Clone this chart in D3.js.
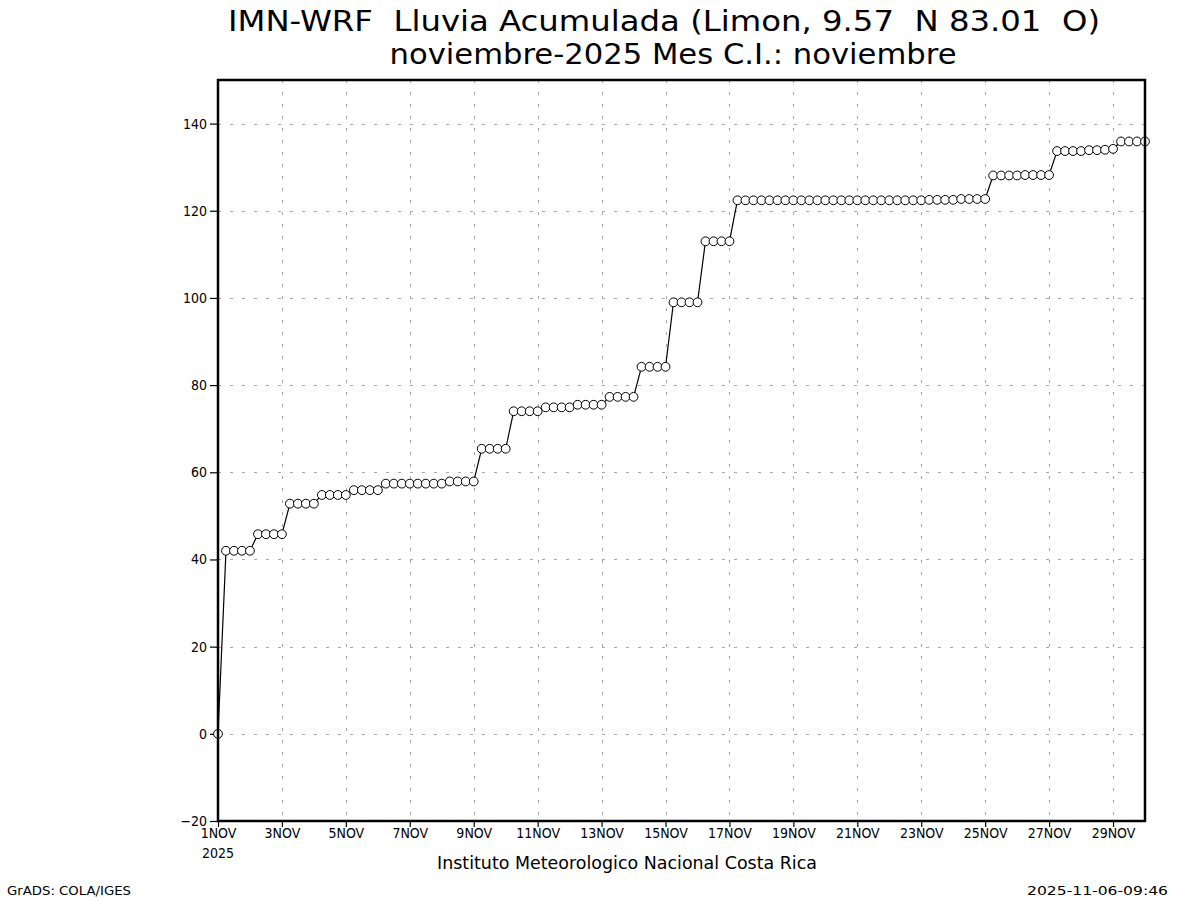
<!DOCTYPE html>
<html>
<head>
<meta charset="utf-8">
<script src="https://cdn.jsdelivr.net/npm/d3@7"></script>
<style>
  html, body { margin: 0; padding: 0; background: #fff; }
  svg { display: block; }
  text { font-family: "DejaVu Sans", "Liberation Sans", sans-serif; fill: #000; white-space: pre; }
</style>
</head>
<body>
<svg id="chart" width="1200" height="900"></svg>
<script>
// ---- data ----
const startDate = "2025-11-01T00:00:00Z";
const stepHours = 6;
// accumulated rainfall (mm), every 6 hours from 1 Nov 00Z to 30 Nov 00Z
const rainfall = [
  0,
  42.0, 42.0, 42.0, 42.0,      // 1 Nov
  45.8, 45.8, 45.8, 45.8,      // 2
  52.8, 52.8, 52.8, 52.8,      // 3
  54.8, 54.8, 54.8, 54.8,      // 4
  55.9, 55.9, 55.9, 55.9,      // 5
  57.4, 57.4, 57.4, 57.4,      // 6
  57.4, 57.4, 57.4, 57.4,      // 7
  57.9, 57.9, 57.9, 57.9,      // 8
  65.4, 65.4, 65.4, 65.4,      // 9
  74.0, 74.0, 74.0, 74.0,      // 10
  74.9, 74.9, 74.9, 74.9,      // 11
  75.5, 75.5, 75.5, 75.5,      // 12
  77.3, 77.3, 77.3, 77.3,      // 13
  84.2, 84.2, 84.2, 84.2,      // 14
  99.0, 99.0, 99.0, 99.0,      // 15
  113.0, 113.0, 113.0, 113.0,  // 16
  122.4, 122.4, 122.4, 122.4,  // 17
  122.4, 122.4, 122.4, 122.4,  // 18
  122.4, 122.4, 122.4, 122.4,  // 19
  122.4, 122.4, 122.4, 122.4,  // 20
  122.4, 122.4, 122.4, 122.4,  // 21
  122.4, 122.4, 122.4, 122.4,  // 22
  122.5, 122.5, 122.5, 122.5,  // 23
  122.7, 122.7, 122.7, 122.7,  // 24
  128.1, 128.1, 128.1, 128.1,  // 25
  128.2, 128.2, 128.2, 128.2,  // 26
  133.7, 133.7, 133.7, 133.7,  // 27
  133.9, 133.9, 134.0, 134.2,  // 28
  135.9, 135.9, 135.9, 135.9   // 29
];
const yTicks = [-20, 0, 20, 40, 60, 80, 100, 120, 140];
const xTickLabels = ["1NOV","3NOV","5NOV","7NOV","9NOV","11NOV","13NOV","15NOV","17NOV","19NOV","21NOV","23NOV","25NOV","27NOV","29NOV"];
const titleLines = ["IMN-WRF  Lluvia Acumulada (Limon, 9.57  N 83.01  O)", "noviembre-2025 Mes C.I.: noviembre"];
const yearLabel = "2025";
const footerCenter = "Instituto Meteorologico Nacional Costa Rica";
const footerLeft = "GrADS: COLA/IGES";
const footerRight = "2025-11-06-09:46";

// ---- layout ----
const L = 218, R = 1145, T = 80, B = 821;
const svg = d3.select("#chart");
const t0 = new Date(startDate);
const data = rainfall.map((v, i) => ({ t: new Date(t0.getTime() + i * stepHours * 3600e3), v }));
const x = d3.scaleUtc().domain([t0, new Date("2025-11-30T00:00:00Z")]).range([L, R]);
const y = d3.scaleLinear().domain([-20, 150]).range([B, T]);
const xTickDates = xTickLabels.map((s, i) => new Date(t0.getTime() + i * 2 * 86400e3));
const condensed = "'DejaVu Sans Condensed','DejaVu Sans',sans-serif";

// grid
const grid = svg.append("g").attr("stroke", "#a8a8a8").attr("stroke-width", 1).attr("stroke-dasharray", "3,9").attr("fill", "none");
yTicks.forEach(v => grid.append("line").attr("x1", L).attr("x2", R).attr("y1", Math.round(y(v)) + 0.5).attr("y2", Math.round(y(v)) + 0.5));
xTickDates.forEach(d => grid.append("line").attr("y1", T).attr("y2", B).attr("x1", Math.round(x(d)) + 0.5).attr("x2", Math.round(x(d)) + 0.5));

// y axis
const yAxis = d3.axisLeft(y).tickValues(yTicks).tickSize(8).tickPadding(3)
  .tickFormat(d => d < 0 ? "\u2212" + Math.abs(d) : String(d));
const gy = svg.append("g").attr("transform", `translate(${L},0)`).call(yAxis);
gy.select(".domain").remove();
gy.selectAll("line").attr("stroke", "#000").attr("stroke-width", 1.2);
gy.selectAll("text").attr("font-size", 14).attr("fill", "#000").style("font-family", condensed);

// x axis
const xAxis = d3.axisBottom(x).tickValues(xTickDates).tickSize(6).tickPadding(1)
  .tickFormat((d, i) => xTickLabels[i]);
const gx = svg.append("g").attr("transform", `translate(0,${B})`).call(xAxis);
gx.select(".domain").remove();
gx.selectAll("line").attr("stroke", "#000").attr("stroke-width", 1.2);
gx.selectAll("text").attr("font-size", 14).attr("fill", "#000").style("font-family", condensed);

svg.append("text").attr("x", x(t0)).attr("y", 858).attr("text-anchor", "middle")
  .attr("font-size", 14).style("font-family", condensed).text(yearLabel);

// series
const line = d3.line().x(d => x(d.t)).y(d => y(d.v));
svg.append("path").datum(data).attr("d", line).attr("fill", "none").attr("stroke", "#000").attr("stroke-width", 1.2);
svg.append("g").selectAll("circle").data(data).join("circle")
  .attr("cx", d => x(d.t)).attr("cy", d => y(d.v)).attr("r", 4.4)
  .attr("fill", "#fff").attr("stroke", "#000").attr("stroke-width", 1);

// frame
svg.append("rect").attr("x", L).attr("y", T).attr("width", R - L).attr("height", B - T)
  .attr("fill", "none").attr("stroke", "#000").attr("stroke-width", 2.5);

// titles
svg.append("text").attr("x", 664).attr("y", 31).attr("text-anchor", "middle").attr("font-size", 28)
  .attr("textLength", 872).attr("lengthAdjust", "spacingAndGlyphs").text(titleLines[0]);
svg.append("text").attr("x", 673).attr("y", 64).attr("text-anchor", "middle").attr("font-size", 28)
  .attr("textLength", 567).attr("lengthAdjust", "spacingAndGlyphs").text(titleLines[1]);

// footers
svg.append("text").attr("x", 627).attr("y", 869).attr("text-anchor", "middle").attr("font-size", 17)
  .attr("textLength", 380).attr("lengthAdjust", "spacingAndGlyphs").text(footerCenter);
svg.append("text").attr("x", 7).attr("y", 895).attr("font-size", 13)
  .attr("textLength", 124).attr("lengthAdjust", "spacingAndGlyphs").text(footerLeft);
svg.append("text").attr("x", 1168).attr("y", 895).attr("text-anchor", "end").attr("font-size", 13)
  .attr("textLength", 141).attr("lengthAdjust", "spacingAndGlyphs").text(footerRight);
</script>
</body>
</html>
